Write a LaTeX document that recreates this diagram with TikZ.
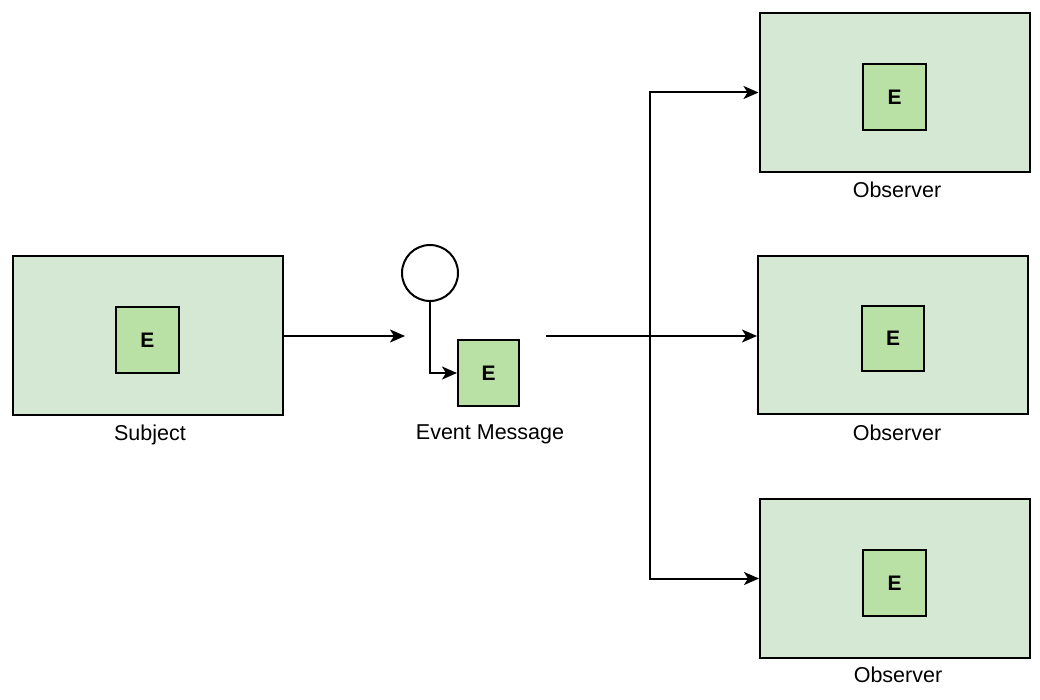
\documentclass[tikz,border=0pt]{standalone}
\usepackage{fontspec}
\setmainfont{Liberation Sans}
\usetikzlibrary{arrows.meta}
\definecolor{outerfill}{HTML}{D5E8D4}
\definecolor{innerfill}{HTML}{B9E0A5}
\begin{document}
\begin{tikzpicture}[x=1pt,y=-1pt,
  outerbox/.style={draw=black, line width=2pt, fill=outerfill, inner sep=0pt, minimum width=270pt, minimum height=159pt},
  innerbox/.style={draw=black, line width=2pt, fill=innerfill, inner sep=0pt, minimum width=63pt, minimum height=66pt, font=\fontsize{21}{24}\selectfont\bfseries},
  lbl/.style={font=\fontsize{21.5}{25}\selectfont, inner sep=0pt},
  conn/.style={line width=2pt, -{Stealth[length=15pt,width=13pt,inset=4pt]}},
  plain/.style={line width=2pt}]
\useasboundingbox (0,0) rectangle (1040,700);

% Subject
\node[outerbox] (subj) at (148,335.5) {};
\node[innerbox] (subjE) at (147.5,340) {E};
\node[lbl] (subjL) at (150,435) {Subject};

% Event message
\node[draw=black, line width=2pt, fill=white, circle, minimum size=56pt, inner sep=0pt] (circ) at (430,273) {};
\node[innerbox, minimum width=61pt] (evE) at (488.5,373) {E};
\node[lbl] (evL) at (490,434) {Event Message};

% Observers
\node[outerbox] (obs1) at (894.5,92.5) {};
\node[innerbox] (obs1E) at (894.5,97) {E};
\node[lbl] (obs1L) at (897,190) {Observer};

\node[outerbox, minimum height=158pt] (obs2) at (893,335) {};
\node[innerbox, minimum width=62pt, minimum height=65pt] (obs2E) at (893,338.5) {E};
\node[lbl] (obs2L) at (897,433) {Observer};

\node[outerbox] (obs3) at (895,578.5) {};
\node[innerbox] (obs3E) at (894.5,583) {E};
\node[lbl] (obs3L) at (898,675) {Observer};

% connectors
\coordinate (inEnd) at (405,336);
\coordinate (outStart) at (546,336);
\coordinate (junc) at (650,336);

\draw[conn] (subj.east |- inEnd) -- (inEnd);
\draw[conn] (circ.south) |- (evE.west);
\draw[conn] (outStart) -- (obs2.west |- outStart);
\draw[conn] (junc) |- (obs1.west);
\draw[conn] (junc) |- (obs3.west);
\end{tikzpicture}
\end{document}
